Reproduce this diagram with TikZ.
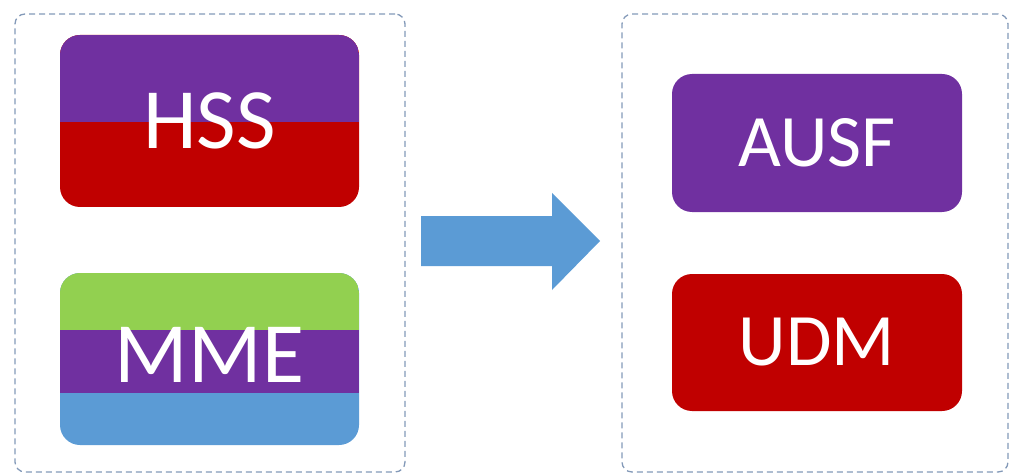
\documentclass[tikz,border=0pt]{standalone}
\usepackage{fontspec}
\setmainfont{Carlito}
\definecolor{nfpurple}{HTML}{7030A0}
\definecolor{nfred}{HTML}{C00000}
\definecolor{nfgreen}{HTML}{92D050}
\definecolor{nfblue}{HTML}{5B9BD5}
\definecolor{dashgray}{HTML}{8399B8}
\begin{document}
\begin{tikzpicture}[x=1pt,y=-1pt,
  container/.style={draw=dashgray, dash pattern=on 6pt off 4pt, line width=1.3pt,
    rounded corners=10pt, inner sep=0pt},
  nfbox/.style={rounded corners=20pt, inner sep=0pt, text=white,
    minimum width=#1},
  bigtext/.style={font=\fontsize{86pt}{86pt}\selectfont},
  midtext/.style={font=\fontsize{74pt}{74pt}\selectfont}]
\useasboundingbox (0,0) rectangle (1010,476);
% containers
\node[container, minimum width=390pt, minimum height=458pt] (left) at (210,243) {};
\node[container, minimum width=386pt, minimum height=458pt] (right) at (815,243) {};
% HSS: purple over red
\node[nfbox=299pt, minimum height=172pt, fill=nfred, bigtext,
  path picture={\fill[nfpurple, sharp corners] (path picture bounding box.north west) rectangle ([yshift=-87pt]path picture bounding box.north east);}]
  (hss) at (209.5,121) {HSS};
% MME: green / purple / blue
\node[nfbox=299pt, minimum height=172pt, fill=nfblue, bigtext,
  text height=55pt, text depth=8pt,
  path picture={
    \fill[nfgreen, sharp corners] (path picture bounding box.north west) rectangle ([yshift=-57pt]path picture bounding box.north east);
    \fill[nfpurple, sharp corners] ([yshift=-57pt]path picture bounding box.north west) rectangle ([yshift=-120pt]path picture bounding box.north east);}]
  (mme) at (209.5,359) {MME};
% AUSF and UDM
\node[nfbox=290pt, minimum height=138pt, fill=nfpurple, midtext] (ausf) at (817,143) {AUSF};
\node[nfbox=290pt, minimum height=137pt, fill=nfred, midtext] (udm) at (817,342.5) {UDM};
% block arrow
\coordinate (arrowtail) at (421,241);
\coordinate (arrowtip) at (600,241);
\fill[nfblue] ([yshift=25pt]arrowtail) -- ++(131,0) -- ++(0,-23) -- (arrowtip) -- ++(-48,49) -- ++(0,-24) -- ([yshift=-25pt]arrowtail) -- cycle;
\end{tikzpicture}
\end{document}
